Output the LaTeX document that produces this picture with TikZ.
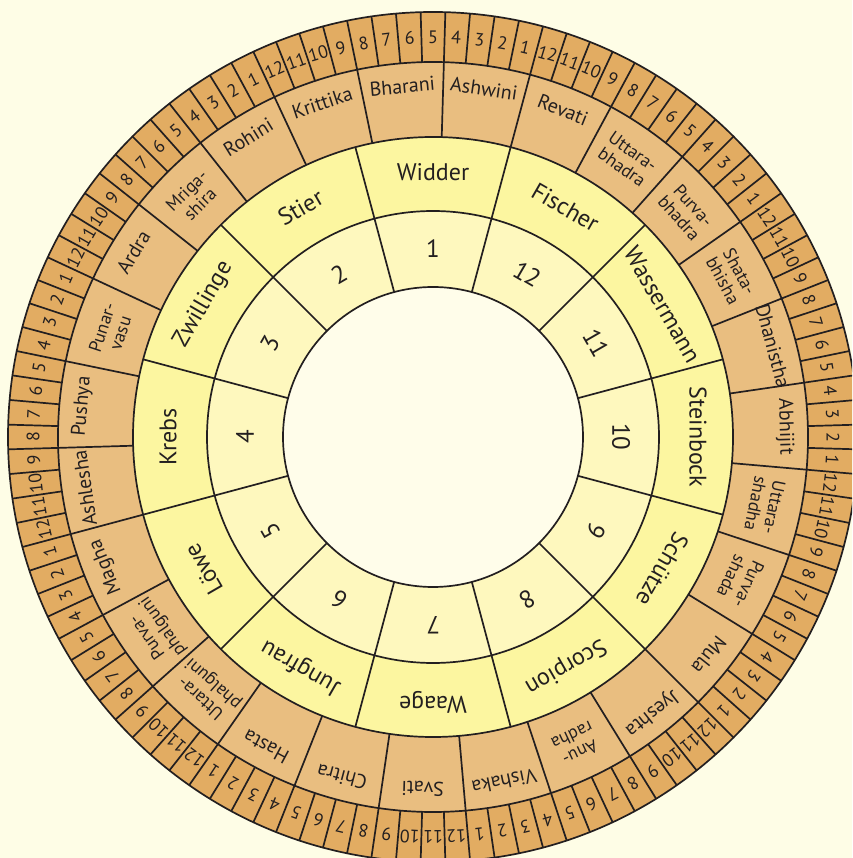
\documentclass[tikz,border=0pt]{standalone}
\usepackage{fontspec}
\setmainfont{PT Sans}
\definecolor{bgcream}{RGB}{254,253,230}
\definecolor{padacol}{RGB}{226,172,98}
\definecolor{nakcol}{RGB}{233,190,128}
\definecolor{signcol}{RGB}{252,246,160}
\definecolor{housecol}{RGB}{254,248,190}
\definecolor{corecol}{RGB}{255,253,234}
\definecolor{inkcol}{RGB}{35,31,32}
\begin{document}
\begin{tikzpicture}[x=1pt, y=1pt, line width=1.7pt, draw=inkcol,
  every node/.style={inner sep=0pt, text=inkcol},
  padanum/.style={font=\fontsize{18}{18}\selectfont},
  naklabel/.style={font=\fontsize{20}{20}\selectfont, align=center},
  nakpair/.style={font=\fontsize{18}{19}\selectfont, align=center},
  signlabel/.style={font=\fontsize{24}{24}\selectfont},
  housenum/.style={font=\fontsize{25}{25}\selectfont}]
  \useasboundingbox (-433,-421) rectangle (419,437);
  \clip (-433,-421) rectangle (419,437);
  \fill[bgcream] (-433,-421) rectangle (419,437);
  % Rings
  \fill[padacol] (0,0) circle (425);
  \fill[nakcol] (0,0) circle (375);
  \fill[signcol] (0,0) circle (300);
  \fill[housecol] (0,0) circle (226);
  \fill[corecol] (0,0) circle (150);
  \foreach \r in {150,226,300,375,425}{
    \draw (0,0) circle (\r);
  }
  % Dividers
  \foreach \k in {0,...,107}{
    \draw ({75+\k*10/3}:375) -- ({75+\k*10/3}:425);
  }
  \foreach \k in {0,...,26}{
    \draw ({75+\k*40/3}:300) -- ({75+\k*40/3}:375);
  }
  \foreach \k in {0,...,11}{
    \draw ({75+\k*30}:150) -- ({75+\k*30}:300);
  }
  % Pada numbers
  \foreach \k in {0,...,107}{
    \pgfmathtruncatemacro{\num}{mod(\k,12)+1}
    \pgfmathsetmacro{\ang}{75+(\k+0.5)*10/3}
    \node[padanum, rotate=\ang-90] (pada\k) at (\ang:400) {\num};
  }
  % Nakshatras
  \foreach \name/\r/\sty [count=\i from 0] in {
    Ashwini/352/naklabel, Bharani/352/naklabel, Krittika/352/naklabel,
    Rohini/352/naklabel, {Mriga-\\shira}/339/nakpair, Ardra/352/naklabel,
    {Punar-\\vasu}/339/nakpair, Pushya/352/naklabel, Ashlesha/352/naklabel,
    Magha/352/naklabel, {Purva-\\phalguni}/339/nakpair,
    {Uttara-\\phalguni}/339/nakpair, Hasta/352/naklabel, Chitra/352/naklabel,
    Svati/352/naklabel, Vishaka/352/naklabel, {Anu-\\radha}/339/nakpair,
    Jyeshta/352/naklabel, Mula/352/naklabel, {Purva-\\shada}/339/nakpair,
    {Uttara-\\shadha}/339/nakpair, Abhijit/352/naklabel,
    Dhanistha/352/naklabel, {Shata-\\bhisha}/339/nakpair,
    {Purva-\\bhadra}/339/nakpair, {Uttara-\\bhadra}/339/nakpair,
    Revati/352/naklabel}{
    \pgfmathsetmacro{\ang}{75+(\i+0.5)*40/3}
    \node[\sty, rotate=\ang-90] (nak\i) at (\ang:\r) {\name};
  }
  % Signs and houses
  \foreach \sign [count=\i from 0] in {
    Widder, Stier, Zwillinge, Krebs, Löwe, Jungfrau,
    Waage, Scorpion, Schütze, Steinbock, Wassermann, Fischer}{
    \pgfmathsetmacro{\ang}{90+\i*30}
    \pgfmathtruncatemacro{\num}{\i+1}
    \node[signlabel, rotate=\ang-90] (sign\i) at (\ang:265) {\sign};
    \node[housenum, rotate=\ang-90] (house\i) at (\ang:188) {\num};
  }
\end{tikzpicture}
\end{document}
